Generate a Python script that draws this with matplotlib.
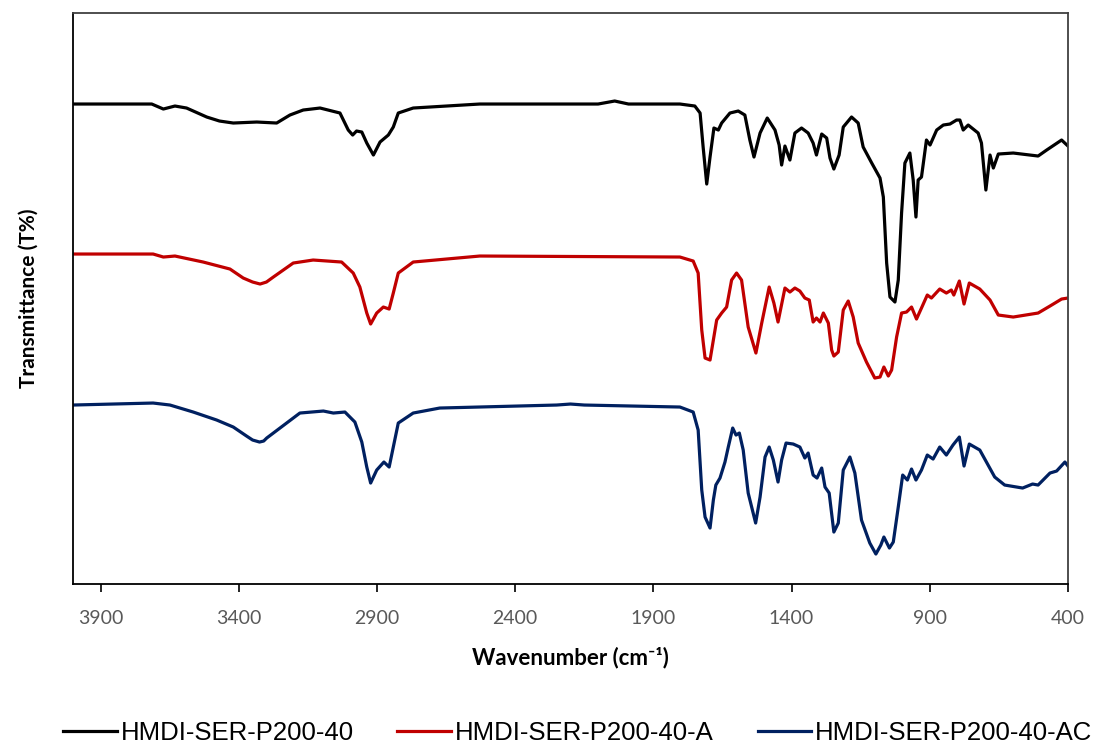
import matplotlib
matplotlib.use("Agg")
import matplotlib.pyplot as plt

# wavenumbers (cm-1) and transmittance (arb. units, curves already offset)
wn_p40 = [4000, 3715, 3673, 3631, 3589, 3516, 3470, 3420, 3335, 3263, 3215, 3167, 3106, 3034,
          3004, 2988, 2974, 2955, 2937, 2913, 2889, 2859, 2841, 2823, 2769, 2528, 2100,
          2040, 1990, 1804, 1750, 1731, 1720, 1707, 1695, 1681, 1665, 1653, 1623, 1593,
          1569, 1551, 1536, 1514, 1488, 1460, 1445, 1436, 1424, 1406, 1388, 1364, 1340,
          1322, 1310, 1291, 1273, 1261, 1247, 1228, 1213, 1183, 1159, 1141, 1110, 1080,
          1068, 1056, 1044, 1026, 1014, 1002, 990, 972, 960, 950, 942, 930, 912, 899,
          875, 851, 827, 803, 791, 779, 761, 725, 713, 697, 682, 670, 652, 598, 508,
          477, 423, 400]
t_p40 = [480, 480, 475, 478, 476, 467, 463, 461, 462, 461, 469, 474, 476, 471,
         454, 449, 453, 452, 441, 429, 442, 449, 457, 471, 476, 480, 480,
         483, 480, 480, 478, 471, 437, 400, 427, 456, 454, 461, 471, 473,
         469, 444, 427, 451, 466, 454, 439, 419, 438, 424, 451, 456, 451,
         441, 429, 450, 446, 426, 415, 429, 457, 467, 461, 437, 421, 406,
         387, 321, 287, 282, 304, 371, 421, 431, 404, 367, 404, 407, 444, 439,
         454, 459, 460, 464, 464, 454, 459, 451, 441, 394, 429, 416, 430, 431, 428,
         434, 444, 438]

wn_p40a = [4000, 3710, 3673, 3631, 3529, 3432, 3384, 3350, 3323, 3300, 3275, 3203, 3131, 3028,
           2986, 2962, 2937, 2923, 2901, 2877, 2856, 2841, 2823, 2769, 2528, 1804, 1756, 1738,
           1725, 1713, 1695, 1683, 1671, 1653, 1635, 1617, 1599, 1581, 1557, 1529, 1508,
           1481, 1464, 1449, 1424, 1406, 1388, 1370, 1352, 1336, 1322, 1310, 1297, 1285,
           1267, 1255, 1247, 1231, 1213, 1195, 1177, 1159, 1129, 1099, 1080, 1066, 1050,
           1038, 1020, 1002, 984, 966, 948, 930, 909, 894, 864, 840, 822, 813, 793, 776,
           757, 719, 682, 652, 598, 508, 465, 423, 400]
t_p40a = [330, 330, 327, 328, 322, 315, 306, 302, 300, 302, 307, 321, 324, 322,
          311, 297, 271, 260, 271, 277, 275, 291, 311, 322, 328, 327, 323, 311,
          254, 226, 224, 244, 264, 271, 277, 304, 311, 304, 257, 231, 261,
          297, 281, 262, 296, 292, 296, 293, 286, 284, 262, 266, 262, 271,
          261, 234, 228, 232, 274, 283, 267, 241, 222, 206, 207, 217, 208,
          214, 247, 271, 272, 277, 265, 276, 289, 286, 295, 291, 294, 289, 303, 280,
          301, 295, 284, 269, 267, 271, 278, 285, 286]

wn_p40ac = [4000, 3710, 3649, 3565, 3480, 3420, 3372, 3350, 3325, 3310, 3299, 3251, 3179,
            3094, 3058, 3016, 2980, 2955, 2937, 2923, 2901, 2875, 2856, 2841, 2823, 2769,
            2673, 2250, 2200, 2150, 1804, 1756, 1738, 1725, 1713, 1695, 1683, 1674, 1659,
            1641, 1629, 1613, 1601, 1589, 1575, 1557, 1530, 1514, 1496, 1481, 1466, 1449,
            1436, 1420, 1394, 1370, 1352, 1340, 1322, 1308, 1291, 1279, 1264, 1247, 1231,
            1213, 1189, 1171, 1147, 1117, 1095, 1077, 1066, 1046, 1032, 1014, 998, 981,
            966, 950, 930, 909, 888, 864, 840, 816, 793, 776, 757, 719, 695, 665, 629,
            564, 528, 508, 465, 441, 411, 400]
t_p40ac = [179, 181, 179, 172, 164, 157, 148, 144, 142, 143, 146, 156, 171,
           173, 171, 172, 162, 142, 117, 101, 114, 122, 117, 137, 161, 171,
           176, 179, 180, 179, 177, 172, 154, 94, 67, 56, 84, 99, 106,
           122, 137, 156, 149, 151, 134, 91, 61, 87, 127, 137, 124, 102,
           124, 141, 140, 137, 126, 131, 109, 106, 116, 97, 91, 52, 61,
           114, 127, 111, 64, 41, 30, 39, 47, 36, 42, 77, 109, 104,
           115, 104, 114, 129, 125, 137, 129, 139, 147, 118, 140, 134, 122, 107, 99,
           96, 100, 99, 111, 113, 122, 118]

xticks = [3900, 3400, 2900, 2400, 1900, 1400, 900, 400]

series = [
    (wn_p40, t_p40, "#000000", "HMDI-SER-P200-40"),
    (wn_p40a, t_p40a, "#C00000", "HMDI-SER-P200-40-A"),
    (wn_p40ac, t_p40ac, "#002060", "HMDI-SER-P200-40-AC"),
]

lab_font = ["Lato", "DejaVu Sans"]

fig = plt.figure(figsize=(10.94, 7.44), dpi=100)
ax = fig.add_axes([0.0667, 0.215, 0.9095, 0.7675])

for wn, t, col, lab in series:
    ax.plot(wn, t, color=col, lw=2.3, label=lab, solid_joinstyle="round")

ax.set_xlim(4000, 400)
ax.set_ylim(0, 571)
ax.set_xticks(xticks)
ax.set_xticklabels([str(v) for v in xticks], fontsize=14, color="#595959", family=lab_font)
ax.set_yticks([])
ax.tick_params(axis="x", direction="out", length=6, width=1.2, pad=13)
for side in ["left", "bottom", "top", "right"]:
    ax.spines[side].set_linewidth(1.3)
ax.spines["right"].set_color("#404040")
ax.spines["top"].set_color("#404040")

ax.set_xlabel("Wavenumber (cm\u207b\u00b9)", fontsize=16, fontweight="bold", labelpad=14,
              family=lab_font)
ax.set_ylabel("Transmittance (T%)", fontsize=15, fontweight="bold", labelpad=25,
              family=lab_font)

fig.legend(loc="lower center", ncol=3, frameon=False, bbox_to_anchor=(0.528, -0.032),
           prop={"family": "Liberation Sans", "size": 18.5}, handlelength=2.1,
           handletextpad=0.15, columnspacing=1.7)

fig.savefig("out.png", dpi=100)
